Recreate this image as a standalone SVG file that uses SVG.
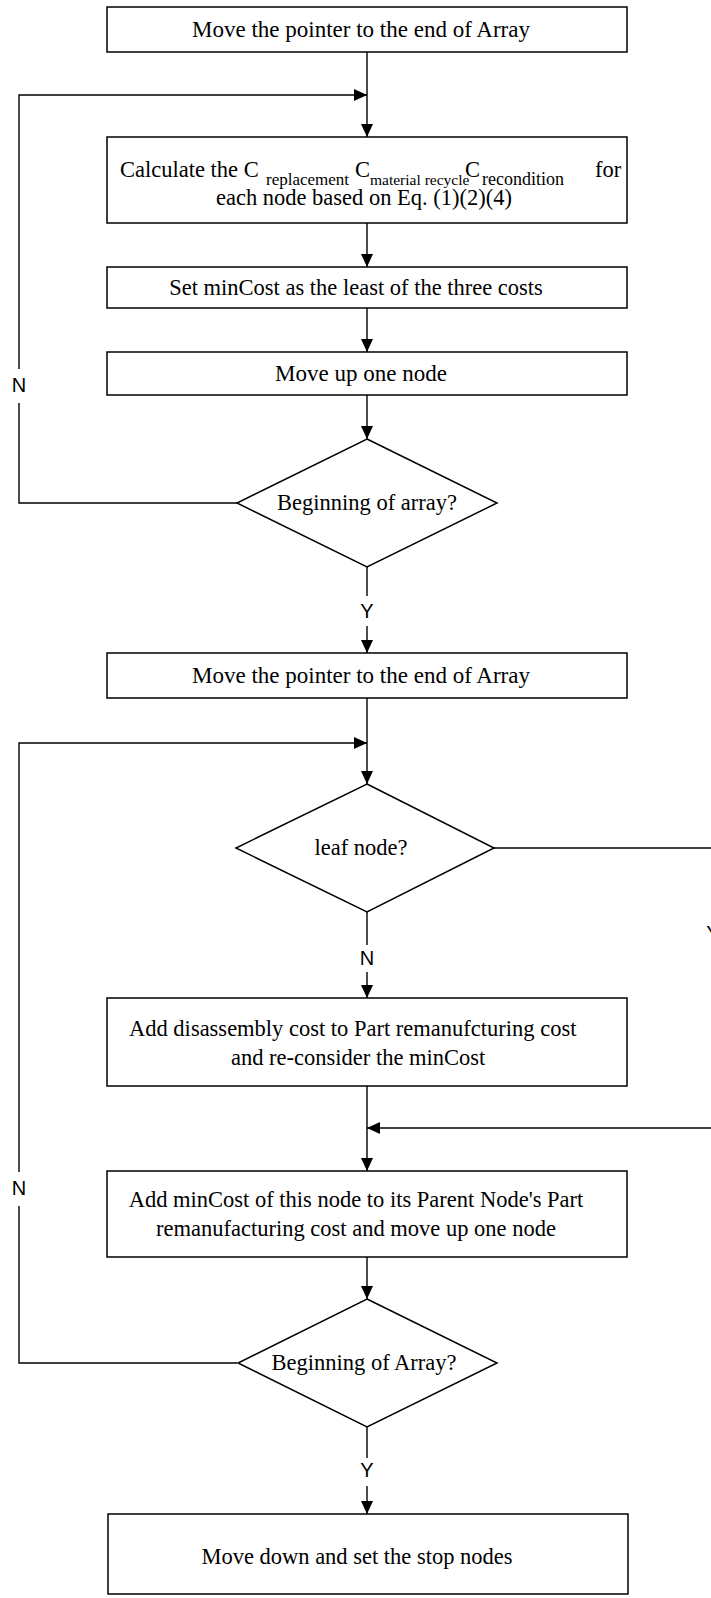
<svg xmlns="http://www.w3.org/2000/svg" width="711" height="1598" viewBox="0 0 711 1598">
<style>
.box{fill:#fff;stroke:#000;stroke-width:1.5}
.dia{fill:#fff;stroke:#000;stroke-width:1.5}
.ln{fill:none;stroke:#000;stroke-width:1.4}
.t{font-family:"Liberation Serif","Times New Roman",serif;font-size:22.5px;fill:#000}
.tl{font-size:23px}
.s{font-family:"Liberation Serif","Times New Roman",serif;font-size:17px;fill:#000}
.lb{font-family:"Liberation Sans",Arial,sans-serif;font-size:20px;fill:#000;text-anchor:middle}
.m{text-anchor:middle}
</style>
<defs>
<marker id="ah" markerUnits="userSpaceOnUse" markerWidth="13" markerHeight="12" refX="13" refY="6" orient="auto">
<path d="M0,0 L13,6 L0,12 z" fill="#000"/>
</marker>
</defs>
<rect width="711" height="1598" fill="#fff"/>
<g id="connectors">
<line class="ln" x1="367" y1="52" x2="367" y2="137" marker-end="url(#ah)"/>
<polyline class="ln" points="237,503 19,503 19,95 367,95" marker-end="url(#ah)"/>
<line class="ln" x1="367" y1="223" x2="367" y2="267" marker-end="url(#ah)"/>
<line class="ln" x1="367" y1="308" x2="367" y2="352" marker-end="url(#ah)"/>
<line class="ln" x1="367" y1="395" x2="367" y2="439" marker-end="url(#ah)"/>
<line class="ln" x1="367" y1="567" x2="367" y2="596"/>
<line class="ln" x1="367" y1="626" x2="367" y2="653" marker-end="url(#ah)"/>
<line class="ln" x1="367" y1="698" x2="367" y2="784" marker-end="url(#ah)"/>
<polyline class="ln" points="237,1363 19,1363 19,743 367,743" marker-end="url(#ah)"/>
<line class="ln" x1="494" y1="848" x2="711" y2="848"/>
<line class="ln" x1="367" y1="912" x2="367" y2="945"/>
<line class="ln" x1="367" y1="972" x2="367" y2="998" marker-end="url(#ah)"/>
<line class="ln" x1="367" y1="1086" x2="367" y2="1171" marker-end="url(#ah)"/>
<line class="ln" x1="711" y1="1128" x2="367" y2="1128" marker-end="url(#ah)"/>
<line class="ln" x1="367" y1="1257" x2="367" y2="1299" marker-end="url(#ah)"/>
<line class="ln" x1="367" y1="1427" x2="367" y2="1458"/>
<line class="ln" x1="367" y1="1486" x2="367" y2="1514" marker-end="url(#ah)"/>
<rect x="9" y="369" width="20" height="34" fill="#fff"/>
<text class="lb" x="19" y="392">N</text>
<text class="lb" x="367" y="618">Y</text>
<text class="lb" x="367" y="965">N</text>
<rect x="9" y="1172" width="20" height="34" fill="#fff"/>
<text class="lb" x="19" y="1195">N</text>
<text class="lb" x="367" y="1477">Y</text>
<text class="lb" x="713" y="940">Y</text>
</g>
<g id="n1">
<rect class="box" x="107" y="7" width="520" height="45"/>
<text class="t tl m" x="361" y="37">Move the pointer to the end of Array</text>
</g>
<g id="n2">
<rect class="box" x="107" y="137" width="520" height="86"/>
<text class="t" x="120" y="177">Calculate the C</text>
<text class="s" x="266" y="185">replacement</text>
<text class="t" x="355" y="177">C</text>
<text class="s" x="370" y="185" style="font-size:15.5px">material recycle</text>
<text class="t" x="465" y="177">C</text>
<text class="s" x="482" y="185" style="font-size:18px">recondition</text>
<text class="t" x="595" y="177">for</text>
<text class="t m" x="364" y="205">each node based on Eq. (1)(2)(4)</text>
</g>
<g id="n3">
<rect class="box" x="107" y="267" width="520" height="41"/>
<text class="t m" x="356" y="295">Set minCost as the least of the three costs</text>
</g>
<g id="n4">
<rect class="box" x="107" y="352" width="520" height="43"/>
<text class="t tl m" x="361" y="381">Move up one node</text>
</g>
<g id="n5">
<polygon class="dia" points="367,439 497,503 367,567 237,503"/>
<text class="t m" x="367" y="510">Beginning of array?</text>
</g>
<g id="n6">
<rect class="box" x="107" y="653" width="520" height="45"/>
<text class="t tl m" x="361" y="683">Move the pointer to the end of Array</text>
</g>
<g id="n7">
<polygon class="dia" points="367,784 494,848 367,912 236,848"/>
<text class="t m" x="361" y="855">leaf node?</text>
</g>
<g id="n8">
<rect class="box" x="107" y="998" width="520" height="88"/>
<text class="t" x="129" y="1036">Add disassembly cost to Part remanufcturing cost</text>
<text class="t" x="231" y="1065">and re-consider the minCost</text>
</g>
<g id="n9">
<rect class="box" x="107" y="1171" width="520" height="86"/>
<text class="t m" x="356" y="1207">Add minCost of this node to its Parent Node's Part</text>
<text class="t m" x="356" y="1236">remanufacturing cost and move up one node</text>
</g>
<g id="n10">
<polygon class="dia" points="367,1299 497,1363 367,1427 238,1363"/>
<text class="t m" x="364" y="1370">Beginning of Array?</text>
</g>
<g id="n11">
<rect class="box" x="108" y="1514" width="520" height="80"/>
<text class="t m" x="357" y="1564">Move down and set the stop nodes</text>
</g>
</svg>
